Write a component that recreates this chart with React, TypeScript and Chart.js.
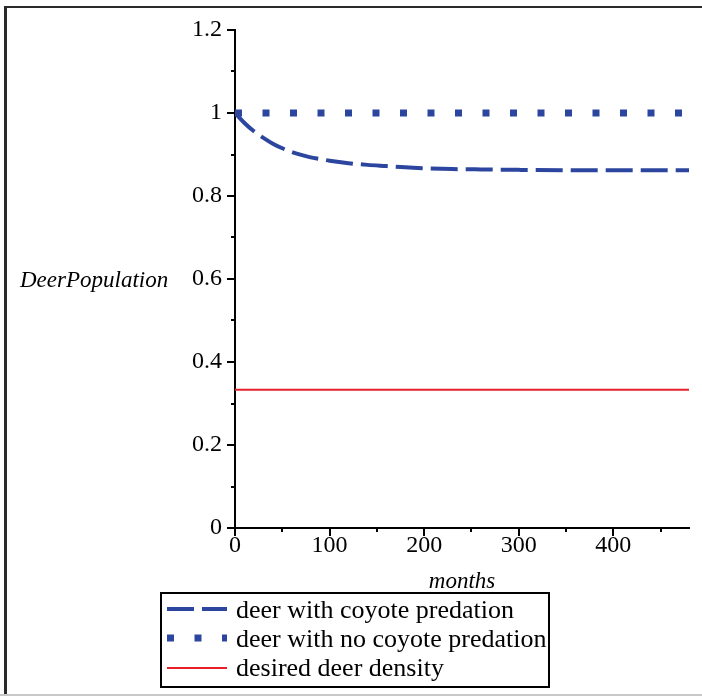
import React, { useEffect, useRef } from "react";
import { Chart, registerables } from "chart.js";

Chart.register(...registerables);

// ---- data ----
const months = [0, 10, 20, 30, 40, 50, 60, 70, 80, 90, 100, 120, 140, 160, 180, 200, 230, 260, 300, 350, 400, 450, 480];
const deerWithCoyote = [1.0, 0.976, 0.956, 0.94, 0.926, 0.915, 0.906, 0.899, 0.893, 0.889, 0.885, 0.879, 0.875, 0.872, 0.869, 0.867, 0.865, 0.864, 0.863, 0.862, 0.862, 0.862, 0.862];
const flatMonths = [0, 480];
const deerNoCoyote = [1, 1];
const desiredDensity = [0.3333, 0.3333];

const seriesLabels = ["deer with coyote predation", "deer with no coyote predation", "desired deer density"];
const xMajorTicks = [0, 100, 200, 300, 400];
const xTickLabels = ["0", "100", "200", "300", "400"];
const xMinorTicks = [50, 150, 250, 350, 450];
const yMajorTicks = [0, 0.2, 0.4, 0.6, 0.8, 1, 1.2];
const yTickLabels = ["0", "0.2", "0.4", "0.6", "0.8", "1", "1.2"];
const yMinorTicks = [0.1, 0.3, 0.5, 0.7, 0.9, 1.1];
const xTitle = "months";
const yTitle = "DeerPopulation";

const BLUE = "#2c469f";
const RED = "#e8202a";
const SERIF = "'Liberation Serif', 'Times New Roman', serif";

const decorPlugin = {
  id: "decor",
  afterDraw(chart: any) {
    const ctx: CanvasRenderingContext2D = chart.ctx;
    const xs = chart.scales.x;
    const ys = chart.scales.y;
    ctx.save();

    // outer frame
    ctx.fillStyle = "#2a2a2a";
    ctx.fillRect(4, 6, 3, 688);
    ctx.fillRect(4, 6, 698, 2);
    ctx.fillStyle = "#c8c8c8";
    ctx.fillRect(0, 694, 702, 2);

    // minor ticks
    ctx.strokeStyle = "#000";
    ctx.lineWidth = 2;
    const y0 = ys.getPixelForValue(0);
    const x0 = xs.getPixelForValue(0);
    ctx.beginPath();
    xMinorTicks.forEach((v) => {
      const px = Math.round(xs.getPixelForValue(v));
      ctx.moveTo(px, y0);
      ctx.lineTo(px, y0 + 4);
    });
    yMinorTicks.forEach((v) => {
      const py = Math.round(ys.getPixelForValue(v));
      ctx.moveTo(x0, py);
      ctx.lineTo(x0 - 4, py);
    });
    ctx.stroke();

    // axis titles
    ctx.fillStyle = "#000";
    ctx.font = `italic 23px ${SERIF}`;
    ctx.textBaseline = "alphabetic";
    ctx.textAlign = "left";
    ctx.fillText(yTitle, 20, 287);
    ctx.textAlign = "center";
    ctx.fillText(xTitle, (xs.left + xs.right) / 2, 588);

    // legend
    const bx = 161, by = 593, bw = 388, bh = 94;
    const rowLine = [609, 638, 668];
    const rowBase = [618, 647, 676];
    ctx.save();
    ctx.beginPath();
    ctx.rect(bx, by, bw, bh);
    ctx.clip();
    chart.data.datasets.forEach((ds: any, i: number) => {
      ctx.save();
      ctx.strokeStyle = ds.borderColor;
      ctx.lineWidth = ds.borderWidth;
      ctx.setLineDash(ds.borderDash || []);
      ctx.lineCap = "butt";
      ctx.beginPath();
      ctx.moveTo(167, rowLine[i]);
      ctx.lineTo(227, rowLine[i]);
      ctx.stroke();
      ctx.restore();
      ctx.fillStyle = "#000";
      ctx.font = `26px ${SERIF}`;
      ctx.textAlign = "left";
      ctx.textBaseline = "alphabetic";
      ctx.fillText(ds.label, 236, rowBase[i]);
    });
    ctx.restore();
    ctx.strokeStyle = "#000";
    ctx.lineWidth = 2;
    ctx.setLineDash([]);
    ctx.strokeRect(bx, by, bw, bh);

    ctx.restore();
  },
};

export default function App() {
  const ref = useRef<HTMLCanvasElement | null>(null);

  useEffect(() => {
    const canvas = ref.current;
    if (!canvas) return;
    const chart = new Chart(canvas, {
      type: "line",
      data: {
        datasets: [
          {
            label: seriesLabels[0],
            data: months.map((m, i) => ({ x: m, y: deerWithCoyote[i] })),
            borderColor: BLUE,
            borderWidth: 4,
            borderDash: [27, 8],
            pointRadius: 0,
            cubicInterpolationMode: "monotone",
            fill: false,
          },
          {
            label: seriesLabels[1],
            data: flatMonths.map((m, i) => ({ x: m, y: deerNoCoyote[i] })),
            borderColor: BLUE,
            borderWidth: 7,
            borderDash: [7, 20.5],
            borderCapStyle: "butt",
            pointRadius: 0,
            fill: false,
          },
          {
            label: seriesLabels[2],
            data: flatMonths.map((m, i) => ({ x: m, y: desiredDensity[i] })),
            borderColor: RED,
            borderWidth: 2,
            pointRadius: 0,
            fill: false,
          },
        ],
      },
      options: {
        animation: false,
        responsive: false,
        devicePixelRatio: 1,
        layout: { padding: { top: 30, right: 13, bottom: 0, left: 0 } },
        plugins: { legend: { display: false }, tooltip: { enabled: false } },
        scales: {
          x: {
            type: "linear",
            min: 0,
            max: 480,
            afterBuildTicks: (s: any) => {
              s.ticks = xMajorTicks.map((v) => ({ value: v }));
            },
            afterFit: (s: any) => {
              s.height = 168;
            },
            grid: { display: true, drawOnChartArea: false, drawTicks: true, tickLength: 8, color: "#000", lineWidth: 2 },
            border: { display: true, color: "#000", width: 2 },
            ticks: {
              color: "#000",
              font: { family: SERIF, size: 24 },
              padding: -5,
              maxRotation: 0,
              autoSkip: false,
              callback: (_v: any, i: number) => xTickLabels[i],
            },
          },
          y: {
            type: "linear",
            min: 0,
            max: 1.2,
            afterBuildTicks: (s: any) => {
              s.ticks = yMajorTicks.map((v) => ({ value: v }));
            },
            afterFit: (s: any) => {
              s.width = 235;
            },
            grid: { display: true, drawOnChartArea: false, drawTicks: true, tickLength: 8, color: "#000", lineWidth: 2 },
            border: { display: true, color: "#000", width: 2 },
            ticks: {
              color: "#000",
              font: { family: SERIF, size: 24 },
              padding: 5,
              autoSkip: false,
              callback: (_v: any, i: number) => yTickLabels[i],
            },
          },
        },
      },
      plugins: [decorPlugin],
    } as any);
    return () => chart.destroy();
  }, []);

  return (
    <div style={{ position: "fixed", left: 0, top: 0, width: 702, height: 696, background: "#fff" }}>
      <canvas ref={ref} width={702} height={696} style={{ display: "block", width: 702, height: 696 }} />
    </div>
  );
}
